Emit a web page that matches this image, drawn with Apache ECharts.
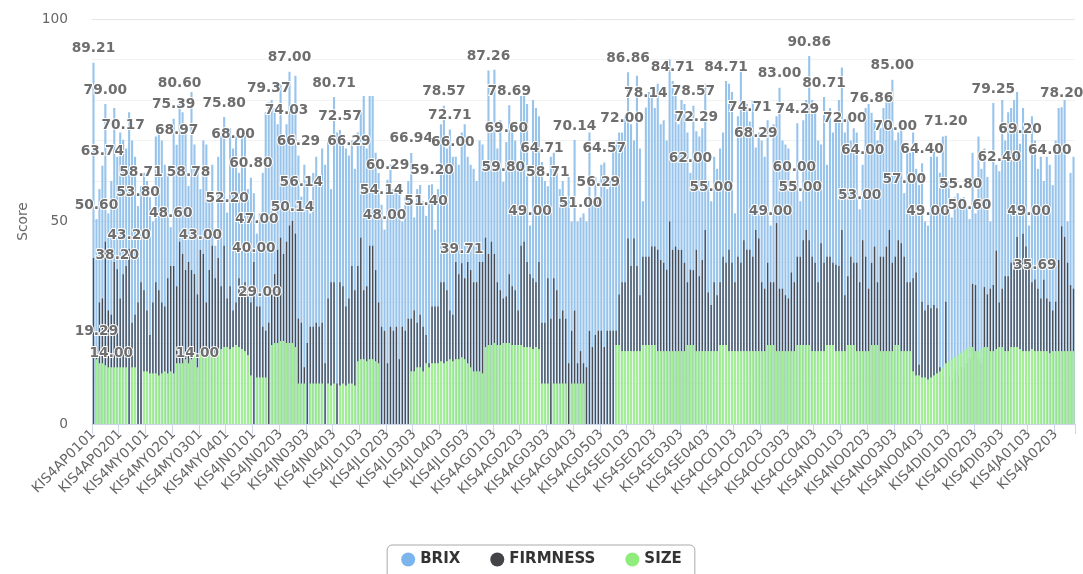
<!DOCTYPE html>
<html>
<head>
<meta charset="utf-8">
<script src="https://cdn.jsdelivr.net/npm/echarts@6/dist/echarts.min.js"></script>
<style>
html,body{margin:0;padding:0;background:#fff;}
#chart{width:1083px;height:574px;}
</style>
</head>
<body>
<div id="chart"></div>
<script>
// Week codes and number of samples per week (category names = KIS4 + week + sample no.)
const weekCodes = ['AP01','AP02','MY01','MY02','MY03','MY04','JN01','JN02','JN03','JN04',
  'JL01','JL02','JL03','JL04','JL05','AG01','AG02','AG03','AG04','AG05',
  'SE01','SE02','SE03','SE04','OC01','OC02','OC03','OC04','NO01','NO02','NO03','NO04',
  'DI01','DI02','DI03','JA01','JA02'];
const weekSamples = [9,9,9,9,9,9,7,9,9,9, 9,9,9,9,9,9,9,9,9,9, 9,9,9,9,9,9,9,9,9,9,9,9, 9,9,9,9,9];

const brix = [
89.21,50.6,58,63.74,79,52,60,78,66,72,
70.17,68,77,70,66,53.8,58.71,62,60,56,
50,71,72,70,64,62,48.6,75.39,68.97,80.6,
77,74,58.78,82,69,63,58,70,69,55,
64,44,66,72,75.8,52.2,73,68,71,62,
73,72,58,60.8,57,47,52,62,77,79.37,
80,78,74,84,70,74.03,87,79,86,66.29,
56.14,64,60,52,62,66,60,68,64,70,
58,80.71,72,72.57,70,68,66.29,70,63,72,
77,81,68,81,81,67,62,54.14,48,60.29,
64,58,57,58,50,56,60,66.94,51,58,
59,55,51.4,59,59.2,48,58,74,78.57,68,
72.71,66,66,64,72,74,66,64,63,60,
70,69,65,87.26,72,87.5,68,75,59.8,69.6,
78.69,73,70,64,81,81,79,49,80,78,
76,64.71,60,58.71,66,67,62,58,60,54,
61,50,70.14,50,51,52,50,72,54,61,
56.29,64,64.57,58,60,68,70,72,72,76,
86.86,74,70,86,68,55,78.14,82,81,78,
84,74,75,70,90,84.71,82,74,80,79,
72,62,78.57,72.29,71,73,84,60,55,66,
63,68,72,84.71,84,82,52,76,87,78,
79,74.71,80,68.29,72,70,66,75,49,74,
76,83,70,69,68,58,60,74.29,55,75,
80,90.86,80,79,70,69,80.71,64,78,72,
75,80,88,72,76,70,73,72,53,64,
78,79,76.86,75,70,73,78,80,81,85,
70,72,75,57,69,67,72,63,59,64.4,
50,49,66,68,66,62,71,71.2,60,51,
56,57,55.8,56,54,50.6,67,52,71,63,
68,61,50,79.25,64,62.4,80,70,77,78,
80,82,69.2,78,73,49,76,70,63,66,
60,66,64,59,70,78,78.2,80,50,62,66
];

const firmness = [
41,19.29,30,31,45,28,27,40,38.2,31,
37,39,43.2,25,27,30,35,33,28,22,
30,35,33,30,29,36,39,39,34,45,
42,38,40,38,37,32,43,42,30,38,
44,36,41,34,44,31,34,28,30,36,
33,35,32,30,40,29,29,24,23,25,
32,37,43,46,42,45,49,50.14,47,26,
25,14,20,24,24,25,24,25,15,31,
35,35,10,35,34,29,31,39,33,39,
46,33,34,44,44,38,30,24,23,15,
24,23,24,16,24,23,26,26,28,25,
27,24,22,15,29,29,29,35,35,33,
28,27,40,37,39.71,36,40,38,35,35,
40,40,46,42,45,42,35,33,31,31.5,
37,34,33,28,44,45,40,37,36,35,
40,25,25,36,26,36,33,26,28,26,
15,23,28,15,18,15,14,23,19,22,
23,23,19,23,23,23,23,32,35,35,
45.8,39,45.8,39,31.8,41.3,41.3,41.3,43.8,43.8,
43,40.5,39.8,38.1,50,43,43.8,43,43,39.8,
35,38.1,38,43,36.5,40.5,47.9,32.5,29.4,35,
31.8,35,41.3,39.8,43,39.8,35,41.3,39.8,45.4,
43,43,41.3,47.9,45.8,35,33.4,39.8,35,35,
49.6,33.4,33.4,31.8,31,37.4,35,41.3,41.3,45.4,
47.9,45.4,41.3,39.8,35,44.6,39.8,41.3,41.3,39.8,
39.3,39,47.9,31.8,36.5,41.3,39.8,39.8,35,45.4,
41.3,33.4,39.8,43.8,35,41.3,41.3,43.8,47.9,39.8,
41.3,45.4,44.6,41.3,35,35,36,37.4,14.6,30.2,
28,29.4,28.6,29.4,28.6,14,12,30.2,12,11,
13,12,14,14,15,16,34.6,34.3,16,15,
33.8,32,33.4,34.3,42.8,30,33.4,36.5,36.5,39.8,
40.5,46.2,38,47,43.8,40.5,35,35.69,33.4,31,
35.6,31,30.2,28,30.2,40.5,48.8,46.2,39.8,34.3,33.4
];

const size = [
0,16,15,15,14.5,14,14,14,14,14,
14,14,0,14,14,0,0,13,13,12.5,
12.5,12.5,12,12.5,13,12.5,13,12.5,15,15,
15,16,15,16,17,14,17,17.5,17,17.5,
17,17.5,18,18.5,19,19,18.5,19,19.5,19,
18.5,18,17,12,0,11.5,11.5,11.5,11.5,0,
19.5,20,20,20.5,20.5,20,20,20,19,10,
10,10,0,10,10,10,10,10,0,10,
9.5,10,0,9.5,10,9.5,10,10,9.5,15.5,
16,16,15.5,16,16,15.5,15,0,0,0,
0,0,0,0,0,0,0,13,13,14,
14,13,15,14,15,15,15,15.5,15,15.5,
16,15.5,16,16,16.5,16,15,14,13,13,
13,12.5,19,19.5,19.5,20,19.5,19.5,20,20,
20,19.5,19.5,19.5,19.5,19,19,19,18.5,19,
18.5,10,10,10,0,10,10,10,10,10,
0,10,10,10,10,10,0,0,0,0,
0,0,0,0,0,0,19.5,19.5,18,18,
18,18,18,18,18,19.5,19.5,19.5,19.5,19.5,
18,18,18,18,18,18,18,18,18,18,
19.5,19.5,19.5,18,18,18,18,18,18,18,
18,19.5,19.5,19.5,18,18,18,18,18,18,
18,18,18,18,18,18,18,19.5,19.5,19.5,
18,18,18,18,18,18,18,19.5,19.5,19.5,
19.5,19.5,18,18,18,18,18,19.5,19.5,19.5,
18,18,18,18,19.5,19.5,19.5,18,18,18,
18,18,19.5,19.5,19.5,18,18,18,18,18,
19.5,19.5,18,18,18,18,13,12,12,11.5,
11.5,11,11.5,12,12.5,13,14,15,15.5,16,
16.5,17,17.5,18,18.5,19,19,18,18,18.5,
19,19,18,18,18.5,19,19,18,18,19,
19,19,18.5,18,18,18,18.5,18,18,18,
18,18,17.5,18,18,18,18,18,18,18,18
];

// which points carry a value label
const brixLabelIdx = [0,1,3,4,10,15,16,26,27,28,29,32,44,45,47,53,55,59,65,66,69,70,81,83,86,97,98,99,107,112,114,118,120,121,133,138,139,140,147,151,153,162,164,170,172,178,180,186,195,201,202,203,208,213,221,223,228,231,236,237,238,241,246,253,258,259,262,269,270,273,279,281,287,292,295,303,305,312,315,322,326];
const firmLabelIdx = [1,8,12,36,54,56,67,124,317];
const sizeLabelIdx = [6,35];

const yTicks = {min: 0, max: 100, interval: 50};

const categories = [];
weekCodes.forEach((w, k) => {
  for (let s = 1; s <= weekSamples[k]; s++) {
    categories.push('KIS4' + w + (s < 10 ? '0' + s : '' + s));
  }
});

const FONT = 'DejaVu Sans';
function withLabels(arr, idxs) {
  const set = new Set(idxs);
  return arr.map((v, i) => set.has(i) ? {value: v, label: {show: true}} : v);
}
const labelStyle = {
  show: false,
  position: 'top',
  distance: 7,
  fontFamily: FONT,
  fontSize: 13.75,
  fontWeight: 'bold',
  color: '#6e6e6e',
  textBorderColor: '#fff',
  textBorderWidth: 2,
  formatter: p => Number(p.value).toFixed(2)
};

// legend swatch colours and (lighter, thin-bar) fill colours
const COLORS = {brix: '#7cb5ec', firm: '#434348', size: '#90ed7d'};
const FILLS = {brix: '#98c4ec', firm: '#4b4b51', size: '#a3ef94'};

function hiddenX() {
  return {type: 'category', data: categories, boundaryGap: true, show: false};
}

const chart = echarts.init(document.getElementById('chart'), null, {renderer: 'canvas'});
chart.setOption({
  animation: false,
  backgroundColor: '#fff',
  textStyle: {fontFamily: FONT},
  grid: {left: 92, right: 8, top: 19, bottom: 150, containLabel: false},
  legend: {
    top: 545,
    left: 'center',
    icon: 'circle',
    itemWidth: 14,
    itemHeight: 14,
    itemGap: 30,
    borderColor: '#aaa',
    borderWidth: 1,
    borderRadius: 5,
    padding: [7, 13, 12, 14],
    textStyle: {fontFamily: FONT, fontSize: 15, fontWeight: 'bold', color: '#333'},
    data: [
      {name: 'BRIX', itemStyle: {color: COLORS.brix}},
      {name: 'FIRMNESS', itemStyle: {color: COLORS.firm}},
      {name: 'SIZE', itemStyle: {color: COLORS.size}}
    ]
  },
  xAxis: [{
    type: 'category',
    data: categories,
    boundaryGap: true,
    axisLine: {lineStyle: {color: '#ccd6eb'}},
    axisTick: {show: true, length: 10, lineStyle: {color: '#ccd6eb'}},
    axisLabel: {
      interval: 8,
      rotate: 45,
      margin: 8,
      fontFamily: FONT,
      fontSize: 13.75,
      color: '#666'
    },
    splitLine: {show: false}
  }, hiddenX(), hiddenX()],
  yAxis: {
    type: 'value',
    min: yTicks.min,
    max: yTicks.max,
    interval: yTicks.interval,
    name: 'Score',
    nameLocation: 'middle',
    nameGap: 48,
    nameTextStyle: {fontFamily: FONT, fontSize: 13.75, color: '#666'},
    axisLine: {show: false},
    axisTick: {show: false},
    axisLabel: {margin: 24, fontFamily: FONT, fontSize: 13.75, color: '#666'},
    splitLine: {lineStyle: {color: '#e6e6e6'}},
    minorTick: {show: false, splitNumber: 5},
    minorSplitLine: {show: true, lineStyle: {color: '#f2f2f2'}}
  },
  series: [
    {name: 'BRIX', type: 'bar', xAxisIndex: 0, data: withLabels(brix, brixLabelIdx),
     itemStyle: {color: FILLS.brix}, barWidth: 2.1, label: labelStyle},
    {name: 'FIRMNESS', type: 'bar', xAxisIndex: 1, data: withLabels(firmness, firmLabelIdx),
     itemStyle: {color: FILLS.firm}, barWidth: 1.3, label: labelStyle},
    {name: 'SIZE', type: 'bar', xAxisIndex: 2, data: withLabels(size, sizeLabelIdx),
     itemStyle: {color: FILLS.size}, barWidth: 2.1, label: labelStyle}
  ]
});
</script>
</body>
</html>
